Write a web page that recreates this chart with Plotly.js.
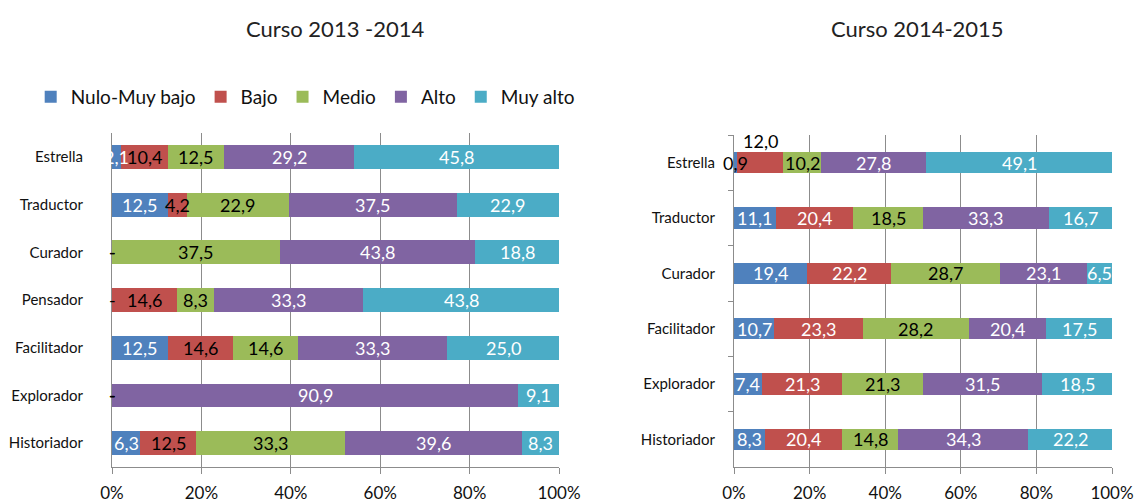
<!DOCTYPE html>
<html>
<head>
<meta charset="utf-8">
<script src="https://cdn.plot.ly/plotly-3.0.1.min.js"></script>
<style>html,body{margin:0;padding:0;background:#fff;}#chart{width:1137px;height:503px;}</style>
</head>
<body>
<div id="chart"></div>
<script>
// ---- data ----
var seriesNames = ['Nulo-Muy bajo', 'Bajo', 'Medio', 'Alto', 'Muy alto'];
var seriesColors = ['#4F81BD', '#C0504D', '#9BBB59', '#8064A2', '#4BACC6'];

var cats13 = ['Estrella', 'Traductor', 'Curador', 'Pensador', 'Facilitador', 'Explorador', 'Historiador'];
var nulo13 = [2.1, 12.5, 0, 0, 12.5, 0, 6.3];
var bajo13 = [10.4, 4.2, 0, 14.6, 14.6, 0, 12.5];
var medio13 = [12.5, 22.9, 37.5, 8.3, 14.6, 0, 33.3];
var alto13 = [29.2, 37.5, 43.8, 33.3, 33.3, 90.9, 39.6];
var muyalto13 = [45.8, 22.9, 18.8, 43.8, 25.0, 9.1, 8.3];

var cats14 = ['Estrella', 'Traductor', 'Curador', 'Facilitador', 'Explorador', 'Historiador'];
var nulo14 = [0.9, 11.1, 19.4, 10.7, 7.4, 8.3];
var bajo14 = [12.0, 20.4, 22.2, 23.3, 21.3, 20.4];
var medio14 = [10.2, 18.5, 28.7, 28.2, 21.3, 14.8];
var alto14 = [27.8, 33.3, 23.1, 20.4, 31.5, 34.3];
var muyalto14 = [49.1, 16.7, 6.5, 17.5, 18.5, 22.2];

var tickVals = [0, 20, 40, 60, 80, 100];
var tickText = ['0%', '20%', '40%', '60%', '80%', '100%'];

var titles = ['Curso 2013 -2014', 'Curso 2014-2015'];

// label text colours per series in each chart
var labelColors13 = ['#ffffff', '#000000', '#000000', '#ffffff', '#ffffff'];
var labelColors14 = ['#ffffff', '#ffffff', '#000000', '#ffffff', '#ffffff'];

// ---- build ----
var FONT = 'Lato, "Open Sans", sans-serif';
var series13 = [nulo13, bajo13, medio13, alto13, muyalto13];
var series14 = [nulo14, bajo14, medio14, alto14, muyalto14];

function fmt(v) { return v === 0 ? '-' : v.toFixed(1).replace('.', ','); }

var traces = [];
var annotations = [];

function addChart(cats, series, xa, ya, colors, legend, isRight, barWidth) {
  var cum = cats.map(function () { return 0; });
  series.forEach(function (vals, si) {
    traces.push({
      type: 'bar', orientation: 'h',
      x: vals, y: cats,
      xaxis: xa, yaxis: ya,
      width: barWidth,
      name: seriesNames[si],
      marker: { color: seriesColors[si], line: { width: 0 } },
      showlegend: legend,
      hoverinfo: 'skip'
    });
    vals.forEach(function (v, i) {
      var ann = {
        x: cum[i] + v / 2, y: cats[i],
        xref: xa, yref: ya, xanchor: 'center', yanchor: 'middle',
        text: fmt(v), showarrow: false,
        font: { family: FONT, size: 18, color: v === 0 ? '#000000' : colors[si] }
      };
      // very small first segment: label reads over white background
      if (isRight && si === 0 && v < 2) ann.font.color = '#000000';
      // Excel placed the crowded "12,0" label above the bar
      if (isRight && si === 1 && i === 0) { ann.yshift = 22; ann.font.color = '#000000'; }
      annotations.push(ann);
      cum[i] += v;
    });
  });
}

addChart(cats13, series13, 'x', 'y', labelColors13, true, false, 0.5);
addChart(cats14, series14, 'x2', 'y2', labelColors14, false, true, 0.38);

var TITLE_FONT = { family: 'Lato, "Open Sans", sans-serif', size: 22, color: '#222' };
annotations.push({
  x: 335 / 1137, y: 1 - 29 / 503, xref: 'paper', yref: 'paper',
  xanchor: 'center', yanchor: 'middle',
  text: titles[0], showarrow: false, font: TITLE_FONT
});
annotations.push({
  x: 917 / 1137, y: 1 - 29 / 503, xref: 'paper', yref: 'paper',
  xanchor: 'center', yanchor: 'middle',
  text: titles[1], showarrow: false, font: TITLE_FONT
});

var GRID = '#8c8c8c';
function xAxis(domain, anchor) {
  return {
    domain: domain, anchor: anchor, range: [0, 100], fixedrange: true,
    tickvals: tickVals, ticktext: tickText,
    ticks: 'outside', ticklen: 6, tickcolor: GRID, tickwidth: 1,
    showline: true, linecolor: GRID, linewidth: 1,
    showgrid: true, gridcolor: GRID, gridwidth: 1, zeroline: false,
    tickfont: { family: FONT, size: 17, color: '#111' },
    ticklabelstandoff: 5
  };
}

var layout = {
  width: 1137, height: 503,
  margin: { l: 0, r: 0, t: 0, b: 0 },
  paper_bgcolor: '#ffffff', plot_bgcolor: '#ffffff',
  barmode: 'stack',
  showlegend: true,
  legend: {
    orientation: 'h', x: 0.027, xanchor: 'left', y: 1 - 97 / 503, yanchor: 'middle',
    font: { family: FONT, size: 19, color: '#111' },
    traceorder: 'normal', itemclick: false, itemdoubleclick: false
  },
  xaxis: xAxis([112 / 1137, 559 / 1137], 'y'),
  yaxis: {
    domain: [36 / 503, 370 / 503], anchor: 'x',
    autorange: 'reversed', type: 'category',
    showline: true, linecolor: GRID, linewidth: 1,
    ticks: '', showgrid: false, zeroline: false,
    tickfont: { family: FONT, size: 15, color: '#111' },
    ticklabelstandoff: 25
  },
  xaxis2: xAxis([734 / 1137, 1112 / 1137], 'y2'),
  yaxis2: {
    domain: [36 / 503, 368 / 503], anchor: 'x2',
    autorange: 'reversed', type: 'category',
    showline: true, linecolor: GRID, linewidth: 1,
    ticks: 'outside', tickson: 'boundaries', ticklen: 5, tickcolor: GRID,
    showgrid: false, zeroline: false,
    tickfont: { family: FONT, size: 15, color: '#111' },
    ticklabelstandoff: 15
  },
  annotations: annotations
};

Plotly.newPlot('chart', traces, layout, { displayModeBar: false, staticPlot: true });
</script>
</body>
</html>
